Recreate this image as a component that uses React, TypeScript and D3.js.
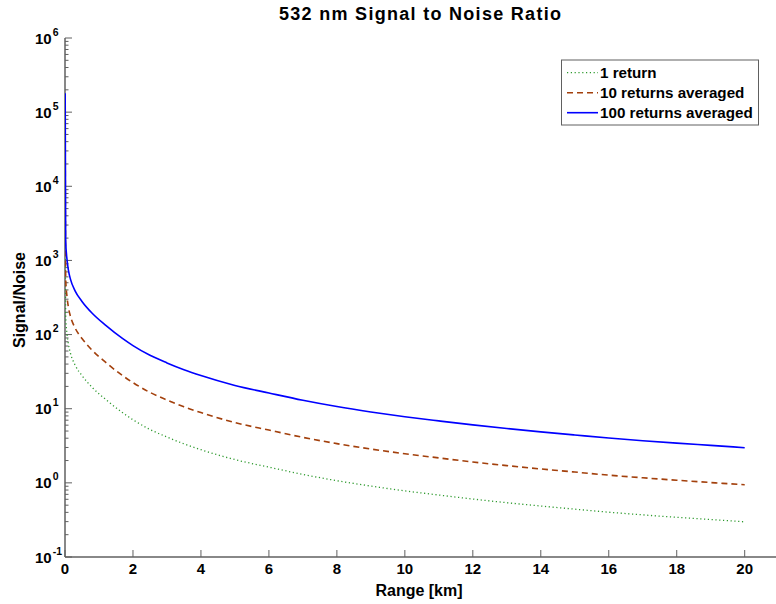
import React, { useEffect, useRef } from 'react';
import * as d3 from 'd3';

// range samples [km] and signal/noise
const rangeKm = [0.005, 0.02, 0.06, 0.1, 0.16, 0.3, 0.5, 0.8, 1.2, 1.7, 2, 2.5, 3, 3.5, 4, 5, 6, 7, 8, 9, 10, 11, 12, 13, 14, 15, 16, 17, 18, 19, 20];
const snr1 = [18000, 180, 102, 74, 56, 38.5, 28, 19.4, 13.3, 8.8, 7.1, 5.25, 4.15, 3.36, 2.8, 2.06, 1.63, 1.3, 1.07, 0.905, 0.78, 0.685, 0.605, 0.54, 0.487, 0.442, 0.402, 0.37, 0.343, 0.32, 0.298];
const snr10 = [56900, 569, 323, 234, 177, 122, 88.5, 61.4, 42.1, 27.8, 22.5, 16.6, 13.1, 10.6, 8.86, 6.51, 5.15, 4.11, 3.38, 2.86, 2.47, 2.17, 1.91, 1.71, 1.54, 1.4, 1.27, 1.17, 1.085, 1.01, 0.943];
const snr100 = [180000, 1800, 1020, 740, 560, 385, 280, 194, 133, 88, 71, 52.5, 41.5, 33.6, 28, 20.6, 16.3, 13.0, 10.7, 9.05, 7.8, 6.85, 6.05, 5.4, 4.87, 4.42, 4.02, 3.7, 3.43, 3.2, 2.98];

const seriesNames = ['1 return', '10 returns averaged', '100 returns averaged'];
const xTicks = [0, 2, 4, 6, 8, 10, 12, 14, 16, 18, 20];
const yExponents = [-1, 0, 1, 2, 3, 4, 5, 6];

const FONT = '"Liberation Sans", Arial, sans-serif';
const AXIS = '#606060';

function App() {
  const ref = useRef<SVGSVGElement | null>(null);

  useEffect(() => {
    const svg = d3.select(ref.current);
    svg.selectAll('*').remove();

    const left = 65, right = 776, top = 38, bottom = 557;
    const x = d3.scaleLinear().domain([0, 20]).range([left, 744.7]);
    const y = d3.scaleLog().domain([0.1, 1e6]).range([bottom, top]);

    svg.append('defs').append('clipPath').attr('id', 'plotClip')
      .append('rect').attr('x', left).attr('y', top).attr('width', right - left).attr('height', bottom - top);

    // axes lines
    const g = svg.append('g').attr('stroke', AXIS).attr('fill', 'none');
    g.append('line').attr('x1', left).attr('x2', right).attr('y1', bottom).attr('y2', bottom).attr('stroke-width', 1.5);
    g.append('line').attr('x1', left).attr('x2', left).attr('y1', top).attr('y2', bottom).attr('stroke-width', 1.5);

    xTicks.forEach(t => {
      g.append('line').attr('x1', x(t)).attr('x2', x(t)).attr('y1', bottom).attr('y2', bottom - 7).attr('stroke-width', 1);
    });
    yExponents.forEach(e => {
      g.append('line').attr('x1', left).attr('x2', left + 7).attr('y1', y(10 ** e)).attr('y2', y(10 ** e)).attr('stroke-width', 1);
      if (e < 6) {
        for (let m = 2; m <= 9; m++) {
          const yy = y(m * 10 ** e);
          g.append('line').attr('x1', left).attr('x2', left + 3.5).attr('y1', yy).attr('y2', yy).attr('stroke-width', 1);
        }
      }
    });

    // tick labels
    svg.append('g').selectAll('text').data(xTicks).enter().append('text')
      .attr('x', d => x(d)).attr('y', 574)
      .attr('text-anchor', 'middle')
      .style('font-family', FONT).style('font-weight', 'bold').style('font-size', '15px')
      .text(d => d);

    const yl = svg.append('g').selectAll('text').data(yExponents).enter().append('text')
      .attr('x', 35).attr('y', d => y(10 ** d) + 5.5)
      .style('font-family', FONT).style('font-weight', 'bold').style('font-size', '15px');
    yl.append('tspan').text('10');
    yl.append('tspan').attr('dy', -8).attr('dx', 1).style('font-size', '10.5px').text(d => d);

    // series
    const line = (vals: number[]) => d3.line<number>()
      .x((_, i) => x(rangeKm[i]))
      .y(d => y(d))
      .curve(d3.curveMonotoneX)(vals);

    const styles = [
      { vals: snr1, color: '#2e9a2e', dash: '1.2 2.6', width: 1.3 },
      { vals: snr10, color: '#a3400c', dash: '6 4', width: 1.6 },
      { vals: snr100, color: '#0000ff', dash: null, width: 1.6 },
    ];

    const plot = svg.append('g').attr('clip-path', 'url(#plotClip)');
    styles.forEach(s => {
      plot.append('path')
        .attr('d', line(s.vals))
        .attr('fill', 'none')
        .attr('stroke', s.color)
        .attr('stroke-width', s.width)
        .attr('stroke-dasharray', s.dash);
    });

    // title & labels
    svg.append('text').attr('x', 420).attr('y', 20).attr('text-anchor', 'middle')
      .attr('textLength', 282).attr('lengthAdjust', 'spacing')
      .style('font-family', FONT).style('font-weight', 'bold').style('font-size', '18px')
      .text('532 nm Signal to Noise Ratio');
    svg.append('text').attr('x', 419).attr('y', 596).attr('text-anchor', 'middle')
      .style('font-family', FONT).style('font-weight', 'bold').style('font-size', '16px')
      .text('Range [km]');
    svg.append('text').attr('transform', 'translate(25,300) rotate(-90)').attr('text-anchor', 'middle')
      .style('font-family', FONT).style('font-weight', 'bold').style('font-size', '16px')
      .text('Signal/Noise');

    // legend
    const lg = svg.append('g');
    lg.append('rect').attr('x', 561.5).attr('y', 60).attr('width', 197).attr('height', 65)
      .attr('fill', '#fff').attr('stroke', AXIS).attr('stroke-width', 1);
    styles.forEach((s, i) => {
      const cy = 72.7 + i * 20;
      lg.append('line').attr('x1', 567).attr('x2', 598).attr('y1', cy).attr('y2', cy)
        .attr('stroke', s.color).attr('stroke-width', s.width).attr('stroke-dasharray', s.dash);
      lg.append('text').attr('x', 600).attr('y', cy + 5)
        .style('font-family', FONT).style('font-weight', 'bold').style('font-size', '15.2px')
        .text(seriesNames[i]);
    });
  }, []);

  return (
    <div style={{ position: 'absolute', left: 0, top: 0 }}>
      <svg ref={ref} width={776} height={604} style={{ display: 'block', background: '#fff' }} />
    </div>
  );
}

export default App;
